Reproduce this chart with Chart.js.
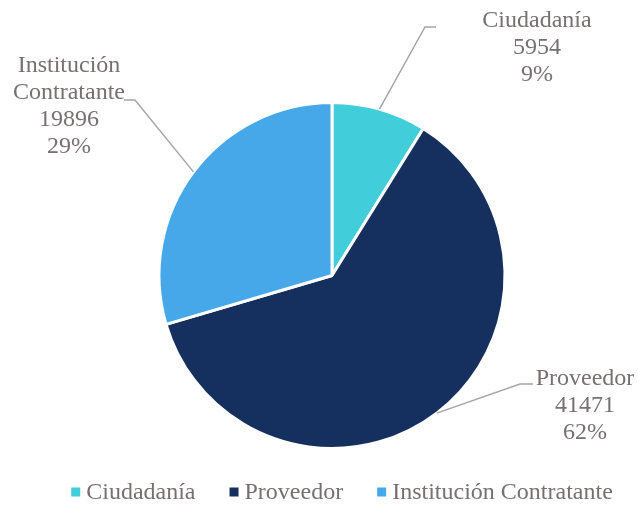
<!DOCTYPE html>
<html>
<head>
<meta charset="utf-8">
<script src="https://cdn.jsdelivr.net/npm/chart.js@4/dist/chart.umd.min.js"></script>
<style>
  html, body { margin: 0; padding: 0; background: #fff; }
  #wrap { width: 639px; height: 506px; position: relative; }
</style>
</head>
<body>
<div id="wrap"><canvas id="pieChart" width="639" height="506"></canvas></div>
<script>
// Data
const categories = ['Ciudadanía', 'Proveedor', 'Institución Contratante'];
const values = [5954, 41471, 19896];
const pctLabels = ['9%', '62%', '29%'];
const labelLines = [['Ciudadanía'], ['Proveedor'], ['Institución', 'Contratante']];
const colors = ['#41CDD9', '#15305F', '#46A8E8'];

const FONT = '"Liberation Serif", "Times New Roman", serif';
const TEXT_COLOR = '#767171';
const LINE_COLOR = '#A6A6A6';

// label placement: elbow point, end of horizontal stub, text centre x, first baseline
const labelPlaces = [
    { elbow: [425, 27], stub: [436, 27], tx: 537, ty: 27 },
    { elbow: [520, 384], stub: [533, 384], tx: 585, ty: 385 },
    { elbow: [135, 100], stub: [124, 100], tx: 69, ty: 72 }
];

// Draw data labels with leader lines and a custom legend
const labelPlugin = {
    id: 'outsideLabels',
    afterDraw(chart) {
        const ctx = chart.ctx;
        const arcs = chart.getDatasetMeta(0).data;
        ctx.save();
        arcs.forEach((arc, i) => {
            const p = arc.getProps(['x', 'y', 'startAngle', 'endAngle', 'outerRadius'], true);
            const mid = (p.startAngle + p.endAngle) / 2;
            const ex = p.x + Math.cos(mid) * p.outerRadius;
            const ey = p.y + Math.sin(mid) * p.outerRadius;
            const place = labelPlaces[i];

            ctx.strokeStyle = LINE_COLOR;
            ctx.lineWidth = 1.5;
            ctx.beginPath();
            ctx.moveTo(ex, ey);
            ctx.lineTo(place.elbow[0], place.elbow[1]);
            ctx.lineTo(place.stub[0], place.stub[1]);
            ctx.stroke();

            const lines = labelLines[i].concat([String(values[i]), pctLabels[i]]);
            ctx.fillStyle = TEXT_COLOR;
            ctx.font = '24px ' + FONT;
            ctx.textAlign = 'center';
            ctx.textBaseline = 'alphabetic';
            lines.forEach((t, k) => {
                ctx.fillText(t, place.tx, place.ty + k * 27);
            });
        });

        // legend
        ctx.font = '24px ' + FONT;
        ctx.textAlign = 'left';
        ctx.textBaseline = 'middle';
        const box = 9, gap = 6, itemGap = 34;
        const widths = categories.map(c => box + gap + ctx.measureText(c).width);
        const total = widths.reduce((a, b) => a + b, 0) + itemGap * (categories.length - 1);
        let x = 342 - total / 2;
        const ly = 492;
        categories.forEach((c, i) => {
            ctx.fillStyle = colors[i];
            ctx.fillRect(x, ly - box / 2, box, box);
            ctx.fillStyle = TEXT_COLOR;
            ctx.fillText(c, x + box + gap, ly + 1);
            x += widths[i] + itemGap;
        });
        ctx.restore();
    }
};

const ctx = document.getElementById('pieChart').getContext('2d');
const pieChart = new Chart(ctx, {
    type: 'pie',
    data: {
        labels: categories,
        datasets: [{
            data: values,
            backgroundColor: colors,
            borderColor: '#ffffff',
            borderWidth: 3
        }]
    },
    options: {
        responsive: false,
        animation: false,
        layout: {
            padding: { top: 101, bottom: 56, left: 25, right: 0 }
        },
        plugins: {
            legend: { display: false },
            tooltip: { enabled: false }
        }
    },
    plugins: [labelPlugin]
});
</script>
</body>
</html>
